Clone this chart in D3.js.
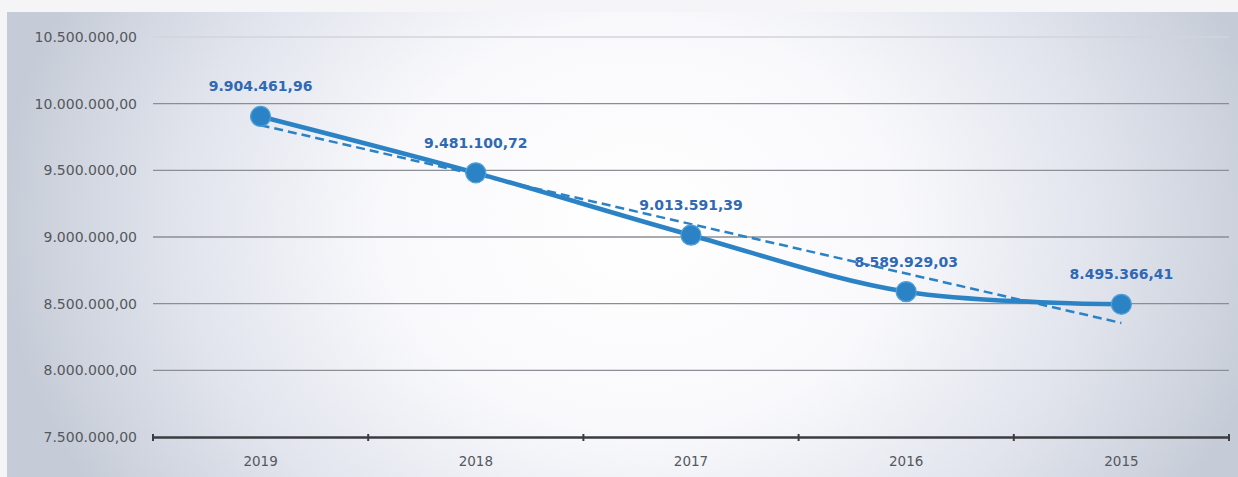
<!DOCTYPE html>
<html><head><meta charset="utf-8">
<script src="https://cdn.jsdelivr.net/npm/d3@7"></script>
<style>html,body{margin:0;padding:0;background:#f5f5f8;}svg{display:block;}</style>
</head><body>
<svg id="c" width="1238" height="477"></svg>
<script>
const categories = ["2019","2018","2017","2016","2015"];
const values = [9904461.96, 9481100.72, 9013591.39, 8589929.03, 8495366.41];
const valueLabels = ["9.904.461,96","9.481.100,72","9.013.591,39","8.589.929,03","8.495.366,41"];
const yTicks = [7500000, 8000000, 8500000, 9000000, 9500000, 10000000, 10500000];
const yTickLabels = ["7.500.000,00","8.000.000,00","8.500.000,00","9.000.000,00","9.500.000,00","10.000.000,00","10.500.000,00"];

(function(){
const svg = d3.select("#c");
const W = 1238, H = 477;
const FONT = "'DejaVu Sans', sans-serif";
const defs = svg.append("defs");
const rg = defs.append("radialGradient").attr("id","bg")
  .attr("gradientUnits","userSpaceOnUse").attr("cx",640).attr("cy",225).attr("r",640)
  .attr("gradientTransform","translate(640,225) scale(1,0.8) translate(-640,-225)");
rg.append("stop").attr("offset","0").attr("stop-color","#ffffff");
rg.append("stop").attr("offset","0.4").attr("stop-color","#f9f9fc");
rg.append("stop").attr("offset","0.72").attr("stop-color","#e1e4ed");
rg.append("stop").attr("offset","1").attr("stop-color","#c6ccd7");
svg.append("rect").attr("x",7).attr("y",12).attr("width",W-7).attr("height",H-12).attr("fill","url(#bg)");

const pLeft = 153, pRight = 1229, pTop = 37, pBottom = 437;
const x = d3.scaleBand().domain(categories).range([pLeft, pRight]).paddingInner(0).paddingOuter(0);
const y = d3.scaleLinear().domain([7500000, 10500000]).range([pBottom, pTop]);

svg.append("g").selectAll("line").data(yTicks.slice(1)).join("line")
  .attr("x1", pLeft).attr("x2", pRight)
  .attr("y1", d => y(d)).attr("y2", d => y(d))
  .attr("stroke", d => d === 10500000 ? "#d2d4da" : "#8c8e95").attr("stroke-width", 1.3);

svg.append("g").selectAll("text").data(yTicks).join("text")
  .attr("x", 137).attr("y", d => y(d)).attr("dy","0.35em")
  .attr("text-anchor","end").attr("font-family",FONT)
  .attr("font-size", 14).attr("fill","#55585d")
  .text((d,i) => yTickLabels[i]);

const xAxis = d3.axisBottom(x).tickSize(0).tickPadding(19);
const gx = svg.append("g").attr("transform", `translate(0,${pBottom})`).call(xAxis);
gx.select(".domain").attr("stroke","#3a3c40").attr("stroke-width",2.4);
gx.selectAll("text").attr("font-family",FONT).attr("font-size",13.5).attr("fill","#55585d");
const bounds = categories.map(c => x(c)).concat([pRight]);
svg.append("g").selectAll("line").data(bounds).join("line")
  .attr("x1", d => d).attr("x2", d => d).attr("y1", pBottom - 3).attr("y2", pBottom + 4)
  .attr("stroke","#3a3c40").attr("stroke-width",2);

const cx = c => x(c) + x.bandwidth()/2;

const line = d3.line().x(d => cx(d.c)).y(d => y(d.v)).curve(d3.curveCatmullRom.alpha(0.5));
const pts = categories.map((c,i) => ({c, v: values[i]}));
svg.append("path").datum(pts).attr("d", line).attr("fill","none")
  .attr("stroke","#2b83c6").attr("stroke-width",4.6).attr("stroke-linecap","round");

const n = values.length;
const xs = values.map((_,i) => i+1);
const mx = d3.mean(xs), my = d3.mean(values);
const slope = d3.sum(xs.map((xi,i) => (xi-mx)*(values[i]-my))) / d3.sum(xs.map(xi => (xi-mx)**2));
const icpt = my - slope*mx;
const tr = [{c: categories[0], v: icpt + slope*1}, {c: categories[n-1], v: icpt + slope*n}];
svg.append("path").datum(tr).attr("d", d3.line().x(d => cx(d.c)).y(d => y(d.v)))
  .attr("fill","none").attr("stroke","#2b83c6").attr("stroke-width",2.5).attr("stroke-dasharray","9,5");

svg.append("g").selectAll("circle").data(pts).join("circle")
  .attr("cx", d => cx(d.c)).attr("cy", d => y(d.v)).attr("r", 10)
  .attr("fill","#2b83c6").attr("stroke","#4fa0d8").attr("stroke-width",1.2);

svg.append("g").selectAll("text").data(pts).join("text")
  .attr("x", d => cx(d.c)).attr("y", d => y(d.v) - 30).attr("dy","0.35em")
  .attr("text-anchor","middle").attr("font-family",FONT)
  .attr("font-weight","bold").attr("font-size",14).attr("fill","#2f69b3")
  .text((d,i) => valueLabels[i]);
})();
</script>
</body></html>
